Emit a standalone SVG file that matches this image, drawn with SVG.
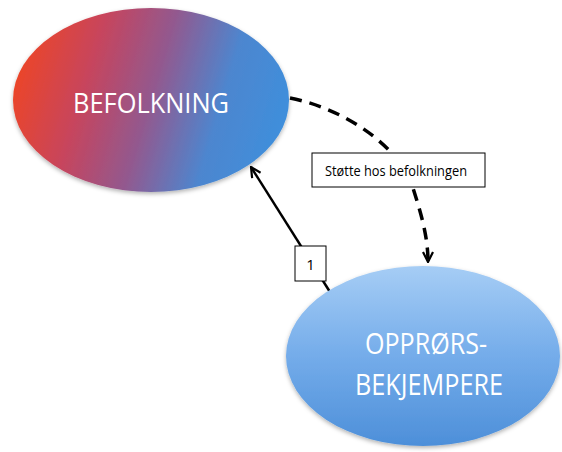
<svg xmlns="http://www.w3.org/2000/svg" width="562" height="452" viewBox="0 0 562 452">
<defs>
<linearGradient id="gRed" x1="0" y1="0.4" x2="1" y2="0.6">
<stop offset="0" stop-color="#ec4528"/>
<stop offset="0.25" stop-color="#c8445c"/>
<stop offset="0.5" stop-color="#92598f"/>
<stop offset="0.75" stop-color="#4d86cf"/>
<stop offset="1" stop-color="#3e8fdc"/>
</linearGradient>
<linearGradient id="gBlue" x1="0" y1="0" x2="0" y2="1">
<stop offset="0" stop-color="#a6cdf5"/>
<stop offset="0.5" stop-color="#74acea"/>
<stop offset="1" stop-color="#4d8fd9"/>
</linearGradient>
<marker id="arr" viewBox="0 0 12 12" refX="11" refY="6" markerWidth="12" markerHeight="12" markerUnits="userSpaceOnUse" orient="auto">
<path d="M1,1 L11,6 L1,11" fill="none" stroke="#000" stroke-width="2.2"/>
</marker>
<filter id="sh" x="-10%" y="-10%" width="120%" height="125%">
<feDropShadow dx="0" dy="2" stdDeviation="2" flood-color="#000" flood-opacity="0.3"/>
</filter>
</defs>
<style>
.lbl{font-family:"Open Sans","Liberation Sans",sans-serif;fill:#000}
.big{font-family:"Open Sans","Liberation Sans",sans-serif;fill:#fff;text-anchor:middle}
.box{fill:#fff;stroke:#000;stroke-width:1}
</style>
<rect width="562" height="452" fill="#fff"/>
<g id="connectors">
<path d="M290,98 C350,110 400,150 412,185 C420,210 428,235 428,262" fill="none" stroke="#000" stroke-width="3.5" stroke-dasharray="12,8" marker-end="url(#arr)"/>
<line x1="330" y1="292" x2="251" y2="167" stroke="#000" stroke-width="2.5" marker-end="url(#arr)"/>
</g>
<g id="befolkning">
<ellipse cx="151" cy="100" rx="138" ry="92" fill="url(#gRed)" filter="url(#sh)"/>
<text class="big" x="151" y="113" font-size="27" textLength="156" lengthAdjust="spacingAndGlyphs">BEFOLKNING</text>
</g>
<g id="opprors">
<ellipse cx="423" cy="356" rx="137" ry="90" fill="url(#gBlue)" filter="url(#sh)"/>
<text class="big" x="426" y="354" font-size="30" textLength="122" lengthAdjust="spacingAndGlyphs">OPPRØRS-</text>
<text class="big" x="429" y="395" font-size="30" textLength="148" lengthAdjust="spacingAndGlyphs">BEKJEMPERE</text>
</g>
<g id="label-stotte">
<rect class="box" x="312" y="153" width="173" height="34"/>
<text class="lbl" x="396" y="176" font-size="14" text-anchor="middle" textLength="142" lengthAdjust="spacingAndGlyphs">Støtte hos befolkningen</text>
</g>
<g id="label-1">
<rect class="box" x="295" y="246" width="31" height="35"/>
<text class="lbl" x="310.5" y="270" font-size="15" text-anchor="middle">1</text>
</g>
</svg>
